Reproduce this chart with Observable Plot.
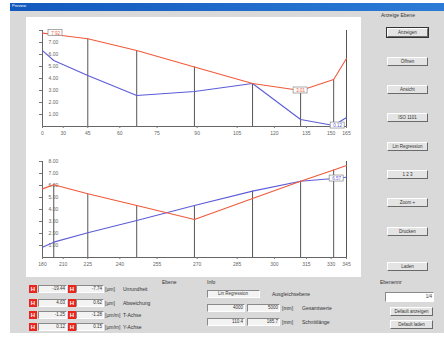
<!DOCTYPE html>
<html><head><meta charset="utf-8">
<script src="https://cdn.jsdelivr.net/npm/d3@7"></script>
<script src="https://cdn.jsdelivr.net/npm/@observablehq/plot@0.6"></script>
<style>
body{margin:0;width:444px;height:337px;background:#fff;overflow:hidden;font-family:"Liberation Sans",Arial,sans-serif;}
#win{position:absolute;left:10px;top:3px;width:434px;height:330px;background:#d9d9d9;}
#title{position:absolute;left:0;top:0;width:434px;height:8px;background:linear-gradient(90deg,#1258bd,#2b7bd6);}
#title span{position:absolute;left:2px;top:0;font-size:4px;color:#fff;line-height:5px}
#panel{position:absolute;left:26px;top:17px;width:335px;height:260px;background:#fff;}
.chart{position:absolute;left:26px;}
.t{position:absolute;font-size:5px;color:#333;white-space:nowrap;line-height:6px}
.btn{position:absolute;left:387px;width:39px;height:7px;background:#e4e4e4;border:1px solid;border-color:#fff #6a6a6a #6a6a6a #fff;font-size:4.5px;line-height:7px;text-align:center;color:#333;white-space:nowrap;overflow:hidden}
.btn.def{outline:1px solid #333}
.fld{position:absolute;height:6px;background:#f3f3f3;border:1px solid;border-color:#8a8a8a #fff #fff #8a8a8a;font-size:4.5px;line-height:6px;text-align:right;padding-right:1px;color:#333;white-space:nowrap;overflow:hidden;box-sizing:content-box}
.ico{position:absolute;width:8px;height:8px;background:#e8261c;color:#fff;font-size:6px;line-height:8px;text-align:center;font-weight:bold}
</style></head>
<body>
<div id="win"><div id="title"><span>Preview</span></div></div>
<div id="panel"></div>
<div id="top" class="chart" style="top:17px"></div>
<div id="bot" class="chart" style="top:147px"></div>
<div id="ui"></div>
<script>
// ---- data ----
const topTheta = [0, 22, 45, 67, 89, 111, 132, 152, 165];
const topRed   = [7.78, 7.67, 7.31, 6.33, 4.96, 3.58, 3.00, 3.92, 5.67];
const topBlue  = [6.33, 5.50, 4.25, 2.58, 2.92, 3.58, 0.58, 0.08, 0.75];
const topRuleTheta = [45, 67, 89, 111, 132, 152];
const topTickTheta = [0, 30, 45, 60, 75, 90, 105, 120, 135, 150, 165];
const topTickLabels = ["0", "30", "45", "60", "75", "90", "105", "120", "135", "150", "165"];
const topYLabels = [1, 2, 3, 4, 5, 6, 7];
const topBoxes = [
  {theta: 0, value: 7.78, text: "7.92", color: "red", dx: 13},
  {theta: 132, value: 3.00, text: "3.01", color: "red", dx: 0},
  {theta: 152, value: 0.08, text: "0.12", color: "blue", dx: 4}
];

const botTheta = [180, 202, 225, 247, 269, 291, 312, 332, 345];
const botRed   = [5.72, 6.06, 5.31, 4.33, 3.17, 4.92, 6.36, 7.29, 7.67];
const botBlue  = [0.86, 1.28, 2.06, 3.08, 4.33, 5.53, 6.36, 6.58, 6.69];
const botRuleTheta = [202, 225, 247, 269, 291, 312, 332];
const botTickTheta = [180, 210, 225, 240, 255, 270, 285, 300, 315, 330, 345];
const botTickLabels = ["180", "210", "225", "240", "255", "270", "285", "300", "315", "330", "345"];
const botYLabels = [1, 2, 3, 4, 5, 6, 7, 8];
const botBoxes = [
  {theta: 332, value: 6.58, text: "6.57", color: "blue", dx: 3}
];

const yTicks = [1, 2, 3, 4, 5, 6, 7, 8];

const RED = "#f05a3a", BLUE = "#5c5cd8";

function chart(theta, red, blue, ruleTheta, tickTheta, tickLabels, yLabels, boxes, offset, opts) {
  const pos = t => 1 - Math.cos((t - offset) * Math.PI / 180);
  const rows = theta.map((t, i) => ({p: pos(t), red: red[i], blue: blue[i], t}));
  const lookup = new Map(rows.map(r => [r.t, r]));
  const rules = ruleTheta.map(t => ({p: pos(t), top: Math.max(lookup.get(t).red, lookup.get(t).blue)}));
  const tickPos = tickTheta.map(pos);
  const labelMap = new Map(tickPos.map((p, i) => [p, tickLabels[i]]));
  const end = pos(theta[theta.length - 1]);
  const boxMarks = boxes.flatMap(b => {
    const d = [{p: pos(b.theta), ...b}];
    return [
      Plot.rect(d, {x1: "p", x2: "p", y1: "value", y2: "value", dx: b.dx, insetLeft: -7, insetRight: -7, insetTop: -3, insetBottom: -3, fill: "white", stroke: "#888", strokeWidth: 0.7}),
      Plot.text(d, {x: "p", y: "value", dx: b.dx, text: "text", fill: b.color === "red" ? RED : BLUE, fontSize: 4.5})
    ];
  });
  return Plot.plot({
    width: 335, height: opts.height,
    marginLeft: 16, marginRight: 15, marginTop: opts.mt, marginBottom: opts.mb,
    style: {fontFamily: "Liberation Sans, Arial, sans-serif", fontSize: "5px", background: "transparent", overflow: "visible", color: "#555"},
    x: {domain: [0, end], axis: null, label: null},
    y: {domain: [0, 8], axis: null, label: null},
    marks: [
      Plot.ruleX(rules, {x: "p", y1: 0, y2: "top", stroke: "#555", strokeWidth: 1}),
      Plot.ruleX([end], {stroke: "#555", strokeWidth: 1}),
      Plot.ruleX([0], {stroke: "#666", strokeWidth: 1}),
      Plot.ruleY([0], {stroke: "#666", strokeWidth: 1}),
      Plot.axisX({ticks: tickPos, tickFormat: d => labelMap.get(d), label: null, tickSize: 2, tickPadding: 3, stroke: "#777", fill: "#666", fontSize: 5}),
      Plot.axisY({ticks: yTicks, tickFormat: () => "", label: null, tickSize: 3, tickPadding: 0, stroke: "#777"}),
      Plot.text(yLabels, {y: d => d, frameAnchor: "left", dx: 6, textAnchor: "start", text: d => d3.format(".2f")(d), fill: "#666", fontSize: 5}),
      Plot.line(rows, {x: "p", y: "blue", stroke: BLUE, strokeWidth: 1.1}),
      Plot.line(rows, {x: "p", y: "red", stroke: RED, strokeWidth: 1.1}),
      ...boxMarks
    ]
  });
}

document.getElementById("top").appendChild(chart(topTheta, topRed, topBlue, topRuleTheta, topTickTheta, topTickLabels, topYLabels, topBoxes, 0, {height: 128, mt: 13, mb: 19}));
document.getElementById("bot").appendChild(chart(botTheta, botRed, botBlue, botRuleTheta, botTickTheta, botTickLabels, botYLabels, botBoxes, 180, {height: 130, mt: 14, mb: 20}));

// ---- UI chrome ----
const buttons = ["Anzeigen", "Öffnen", "Ansicht", "ISO 1101", "Lin Regression", "1 2 3", "Zoom +", "Drucken", "Laden"];
const buttonTops = [28, 57, 85, 113, 142, 170, 198, 227, 262];
const rowLabels = ["Unrundheit", "Abweichung", "T-Achse", "Y-Achse"];
const rowUnits = ["[µm]", "[µm]", "[µm/m]", "[µm/m]"];
const rowA = ["-19.44", "4.03", "-1.25", "0.12"];
const rowB = ["-7.74", "0.62", "-1.28", "0.15"];
const rowTops = [285, 299, 311, 323];

const ui = document.getElementById("ui");
function add(cls, style, text) {
  const d = document.createElement("div");
  d.className = cls; d.style.cssText = style; d.textContent = text; ui.appendChild(d); return d;
}
add("t", "left:381px;top:12px", "Anzeige Ebene");
buttons.forEach((b, i) => add("btn" + (i === 0 ? " def" : ""), `top:${buttonTops[i]}px`, b));
rowTops.forEach((y, i) => {
  add("ico", `left:29px;top:${y}px`, "H");
  add("fld", `left:38px;top:${y}px;width:26px`, rowA[i]);
  add("ico", `left:68px;top:${y}px`, "H");
  add("fld", `left:76px;top:${y}px;width:25px`, rowB[i]);
  add("t", `left:105px;top:${y + 1}px`, rowUnits[i]);
  add("t", `left:123px;top:${y + 1}px`, rowLabels[i]);
});
add("t", "left:162px;top:279px", "Ebene");
add("t", "left:207px;top:279px", "Info");
add("fld", "left:207px;top:290px;width:50px;text-align:center", "Lin Regression");
add("t", "left:272px;top:291px", "Ausgleichsebene");
add("fld", "left:207px;top:304px;width:35px", "4000");
add("fld", "left:247px;top:304px;width:30px", "5000");
add("t", "left:282px;top:305px", "[mm]");
add("t", "left:302px;top:305px", "Gesamtwerte");
add("fld", "left:207px;top:318px;width:35px", "110.4");
add("fld", "left:247px;top:318px;width:30px", "185.7");
add("t", "left:282px;top:319px", "[mm]");
add("t", "left:302px;top:319px", "Schnittlänge");
add("t", "left:380px;top:279px", "Ebenennr");
add("fld", "left:385px;top:292px;width:46px;height:8px;background:#fff;line-height:8px", "1/4");
add("btn", "left:390px;top:307px;width:41px", "Default anzeigen");
add("btn", "left:390px;top:320px;width:41px", "Default laden");
</script>
</body></html>
